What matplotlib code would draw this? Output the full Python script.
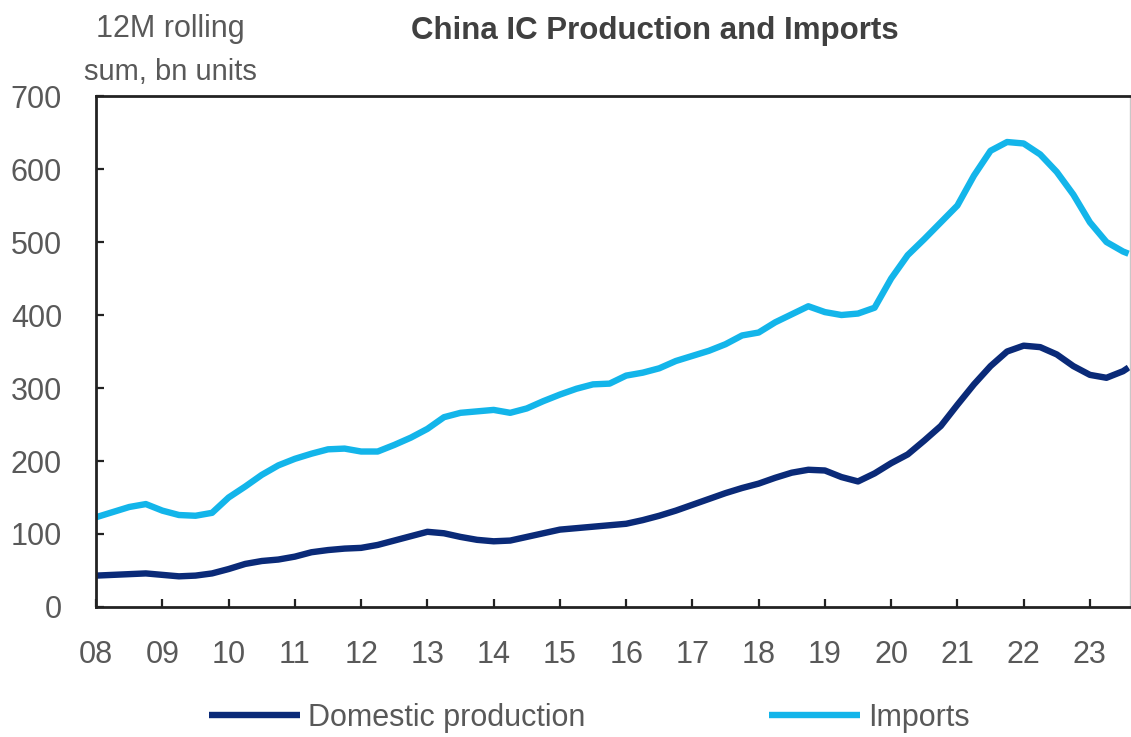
import numpy as np
import pandas as pd
import matplotlib
matplotlib.use("Agg")
import matplotlib.pyplot as plt

# 12M rolling sum, bn units (quarterly, last point Aug 2023)
dates = list(pd.date_range("2008-01-01", "2023-07-01", freq="QS")) + [pd.Timestamp("2023-08-01")]

imports = [123, 130, 137, 141, 132, 126, 125, 129,
           150, 165, 181, 194, 203, 210, 216, 217,
           213, 213, 222, 232, 244, 260, 266, 268,
           270, 266, 272, 282, 291, 299, 305, 306,
           317, 321, 327, 337, 344, 351, 360, 372,
           376, 390, 401, 412, 404, 400, 402, 410,
           450, 482, 504, 527, 550, 591, 625, 637,
           635, 620, 596, 565, 527, 500, 487, 484]

domestic = [43, 44, 45, 46, 44, 42, 43, 46,
            52, 59, 63, 65, 69, 75, 78, 80,
            81, 85, 91, 97, 103, 101, 96, 92,
            90, 91, 96, 101, 106, 108, 110, 112,
            114, 119, 125, 132, 140, 148, 156, 163,
            169, 177, 184, 188, 187, 178, 172, 183,
            197, 209, 228, 248, 277, 305, 330, 350,
            358, 356, 346, 330, 318, 314, 323, 328]

year_ticks = list(range(2008, 2024))
year_labels = [f"{y % 100:02d}" for y in year_ticks]

NAVY = "#0a2a78"
LIGHT = "#13b5ea"
GREY = "#595959"

plt.rcParams["font.family"] = ["Liberation Sans", "DejaVu Sans"]

x = np.array([d.year + (d.month - 1) / 12 for d in dates])

fig = plt.figure(figsize=(11.31, 7.37), dpi=100)
ax = fig.add_axes([0.085, 0.1764, 0.914, 0.6933])

ax.plot(x, domestic, color=NAVY, lw=4.6, label="Domestic production", solid_capstyle="butt")
ax.plot(x, imports, color=LIGHT, lw=4.6, label="Imports", solid_capstyle="butt")

ax.set_xlim(2008, x[-1] + 0.02)
ax.set_ylim(0, 700)
ax.set_yticks(range(0, 701, 100))
ax.set_xticks(year_ticks)
ax.set_xticklabels(year_labels)

ax.tick_params(axis="both", direction="in", length=6, width=1.6, color="#222222",
               labelsize=22, labelcolor=GREY)
ax.tick_params(axis="y", pad=24.5)
ax.tick_params(axis="x", pad=24)

for side in ["left", "bottom", "top"]:
    ax.spines[side].set_color("#222222")
    ax.spines[side].set_linewidth(2)
ax.spines["right"].set_color("#c8c8c8")
ax.spines["right"].set_linewidth(1)

fig.text(0.151, 0.96, "12M rolling", ha="center", va="center", fontsize=22, color=GREY)
fig.text(0.151, 0.902, "sum, bn units", ha="center", va="center", fontsize=21, color=GREY)
fig.text(0.579, 0.958, "China IC Production and Imports", ha="center", va="center",
         fontsize=22.5, fontweight="bold", color="#404040")

fig.legend(loc="center", bbox_to_anchor=(0.521, 0.026), ncol=2, frameon=False,
           fontsize=22, labelcolor=GREY, handlelength=3.0, handletextpad=0.25,
           columnspacing=6.0)

fig.savefig("out.png", dpi=100)
